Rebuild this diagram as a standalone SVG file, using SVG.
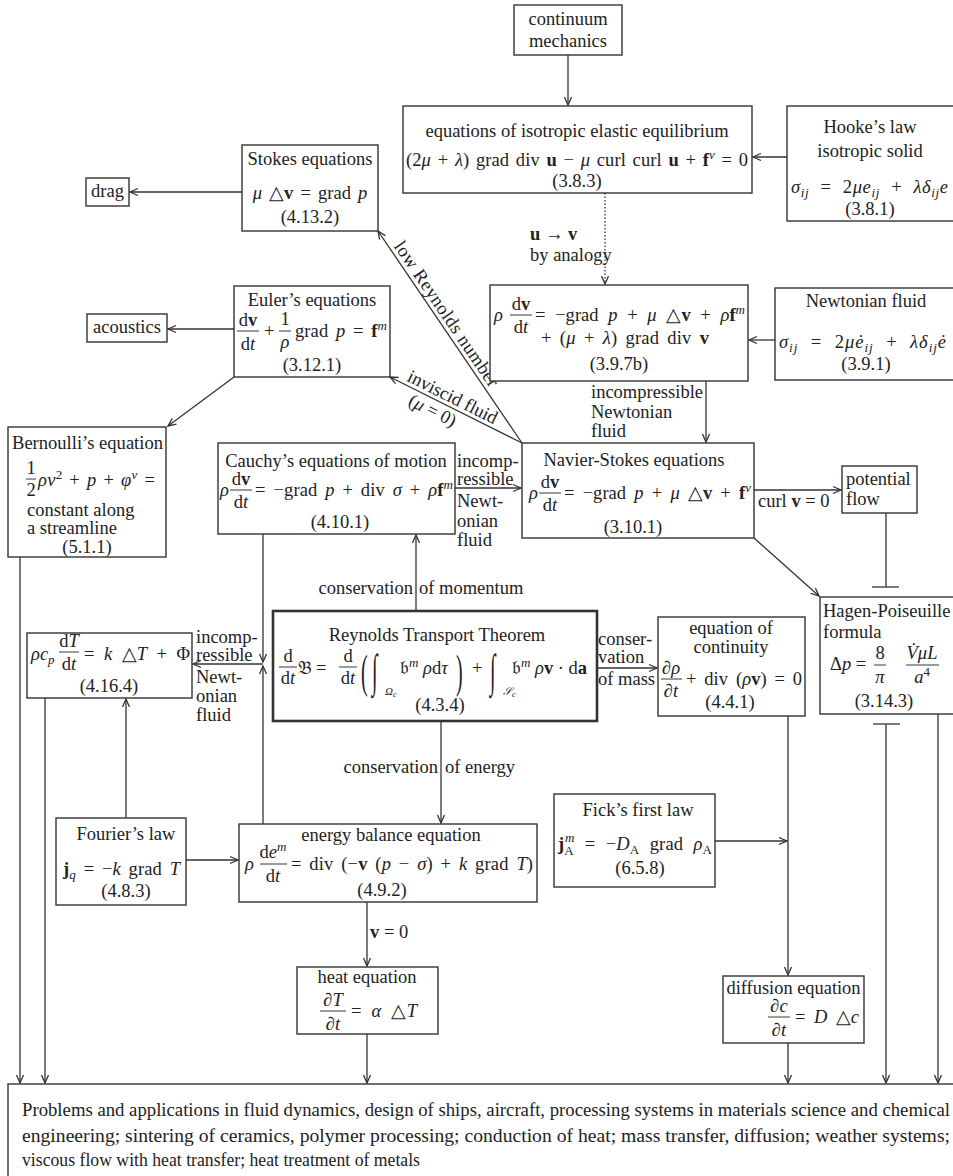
<svg xmlns="http://www.w3.org/2000/svg" width="953" height="1176" viewBox="0 0 953 1176" font-family="'Liberation Serif', 'Times New Roman', serif">
<defs>
<marker id="ah" viewBox="0 0 10 10" refX="9" refY="5" markerWidth="10" markerHeight="10" markerUnits="userSpaceOnUse" orient="auto">
<path d="M1,1.5 L9,5 L1,8.5" fill="none" stroke="#333" stroke-width="1.3"/>
</marker>
<style>
text{font-family:'Liberation Serif','Times New Roman',serif}
.t{font-size:18.5px;fill:#222}
.i{font-style:italic}
.b{font-weight:bold}
.s{font-size:13px}
.xs{font-size:8.5px}
.c{text-anchor:middle}
.e{text-anchor:end}
.box{fill:#fff;stroke:#333;stroke-width:1.4}
.thick{stroke-width:2.6}
.ln{stroke:#333;stroke-width:1.3;fill:none}
.dot{stroke-dasharray:1.5 2}
.fr{stroke:#222;stroke-width:0.9}
.a{marker-end:url(#ah)}
.bt{font-size:18.5px;fill:#222}
</style>
</defs>
<rect width="953" height="1176" fill="#fff"/>

<g id="connectors">
<line class="ln a" x1="568" y1="55" x2="568" y2="105"/>
<line class="ln a" x1="787" y1="157" x2="753" y2="157"/>
<line class="ln a" x1="242" y1="192" x2="130" y2="192"/>
<line class="ln a dot" x1="605" y1="193" x2="605" y2="284"/>
<line class="ln a" x1="775" y1="340" x2="749" y2="340"/>
<line class="ln a" x1="706" y1="381" x2="706" y2="442"/>
<line class="ln a" x1="234" y1="329" x2="168" y2="329"/>
<line class="ln a" x1="234" y1="377" x2="168" y2="426"/>
<line class="ln a" x1="522" y1="443" x2="378" y2="231"/>
<line class="ln a" x1="522" y1="443" x2="390" y2="377"/>
<line class="ln a" x1="455" y1="488" x2="521" y2="488"/>
<line class="ln a" x1="754" y1="490" x2="841" y2="490"/>
<line class="ln" x1="886" y1="513" x2="886" y2="587"/>
<line class="ln" x1="872" y1="587" x2="899" y2="587"/>
<line class="ln a" x1="754" y1="538" x2="819" y2="596"/>
<line class="ln" x1="873" y1="724" x2="900" y2="724"/>
<line class="ln a" x1="886" y1="724" x2="886" y2="1083"/>
<line class="ln a" x1="938" y1="714" x2="938" y2="1083"/>
<line class="ln a" x1="416" y1="611" x2="416" y2="535"/>
<line class="ln a" x1="263" y1="534" x2="263" y2="662"/>
<line class="ln a" x1="263" y1="824" x2="263" y2="666"/>
<line class="ln a" x1="263" y1="664" x2="193" y2="664"/>
<line class="ln a" x1="441" y1="722" x2="441" y2="823"/>
<line class="ln a" x1="597" y1="668" x2="657" y2="668"/>
<line class="ln a" x1="788" y1="716" x2="788" y2="975"/>
<line class="ln a" x1="715" y1="841" x2="787" y2="841"/>
<line class="ln a" x1="186" y1="860" x2="238" y2="860"/>
<line class="ln a" x1="126" y1="818" x2="126" y2="699"/>
<line class="ln a" x1="367" y1="902" x2="367" y2="966"/>
<line class="ln a" x1="20" y1="557" x2="20" y2="1083"/>
<line class="ln a" x1="45" y1="698" x2="45" y2="1083"/>
<line class="ln a" x1="367" y1="1034" x2="367" y2="1083"/>
<line class="ln a" x1="788" y1="1043" x2="788" y2="1083"/>
<text class="t" x="530" y="240"><tspan class="b">u</tspan> → <tspan class="b">v</tspan></text>
<text class="t" x="530" y="261">by analogy</text>
<text class="t" x="591" y="398">incompressible</text>
<text class="t" x="591" y="418">Newtonian</text>
<text class="t" x="591" y="437">fluid</text>
<text class="t" x="457" y="467">incomp-</text>
<text class="t" x="457" y="485">ressible</text>
<text class="t" x="457" y="507">Newt-</text>
<text class="t" x="457" y="527">onian</text>
<text class="t" x="457" y="546">fluid</text>
<text class="t" x="196" y="643">incomp-</text>
<text class="t" x="196" y="661">ressible</text>
<text class="t" x="196" y="683">Newt-</text>
<text class="t" x="196" y="702">onian</text>
<text class="t" x="196" y="721">fluid</text>
<text class="t" x="598" y="645">conser-</text>
<text class="t" x="598" y="663">vation</text>
<text class="t" x="598" y="685">of mass</text>
<text class="t" x="758" y="507">curl <tspan class="b">v</tspan> = 0</text>
<text class="t" x="370" y="938"><tspan class="b">v</tspan> = 0</text>
<text class="t e" x="413" y="594">conservation</text>
<text class="t" x="419" y="594">of momentum</text>
<text class="t e" x="438" y="773">conservation</text>
<text class="t" x="445" y="773">of energy</text>
<g transform="translate(440,322) rotate(55.8)"><text class="t c" x="-3" y="-4" textLength="172">low Reynolds number</text></g>
<g transform="translate(450,407) rotate(26.6)"><text class="t c" x="-2" y="-4">inviscid fluid</text><text class="t c" x="-14" y="17">(<tspan class="i">μ</tspan> = 0)</text></g>
</g>

<g id="continuum">
<rect class="box" x="514" y="5" width="108" height="50"/>
<text class="t c" x="568" y="25">continuum</text>
<text class="t c" x="568" y="47">mechanics</text>
</g>

<g id="elastic">
<rect class="box" x="403" y="106" width="349" height="87"/>
<text class="t c" x="577" y="137">equations of isotropic elastic equilibrium</text>
<text class="t" x="406" y="166" style="word-spacing:2px" textLength="342">(2<tspan class="i">μ</tspan> + <tspan class="i">λ</tspan>) grad div <tspan class="b">u</tspan> − <tspan class="i">μ</tspan> curl curl <tspan class="b">u</tspan> + <tspan class="b">f</tspan><tspan class="s i" dy="-7">v</tspan><tspan dy="7"> = 0</tspan></text>
<text class="t c" x="577" y="187">(3.8.3)</text>
</g>

<g id="hooke">
<rect class="box" x="787" y="106" width="175" height="115"/>
<text class="t c" x="870" y="133">Hooke’s law</text>
<text class="t c" x="870" y="157">isotropic solid</text>
<text class="t" x="791" y="193" style="word-spacing:6px" textLength="157"><tspan class="i">σ</tspan><tspan class="s i" dy="4">ij</tspan><tspan dy="-4"> = 2</tspan><tspan class="i">μe</tspan><tspan class="s i" dy="4">ij</tspan><tspan dy="-4"> + </tspan><tspan class="i">λδ</tspan><tspan class="s i" dy="4">ij</tspan><tspan class="i" dy="-4">e</tspan></text>
<text class="t c" x="870" y="215">(3.8.1)</text>
</g>

<g id="stokes">
<rect class="box" x="242" y="145" width="136" height="86"/>
<text class="t c" x="310" y="165">Stokes equations</text>
<text class="t c" x="310" y="199" style="word-spacing:2.5px"><tspan class="i">μ</tspan> △<tspan class="b">v</tspan> = grad <tspan class="i">p</tspan></text>
<text class="t c" x="310" y="223">(4.13.2)</text>
</g>

<g id="drag">
<rect class="box" x="86" y="178" width="43" height="28"/>
<text class="t c" x="107.5" y="197">drag</text>
</g>

<g id="euler">
<rect class="box" x="234" y="286" width="156" height="91"/>
<text class="t c" x="312" y="306">Euler’s equations</text>
<text class="t c" x="248" y="326">d<tspan class="b">v</tspan></text>
<line class="fr" x1="237" y1="331" x2="259" y2="331"/>
<text class="t c" x="248" y="350">d<tspan class="i">t</tspan></text>
<text class="t" x="264" y="337">+</text>
<text class="t c" x="285" y="325">1</text>
<line class="fr" x1="279" y1="331" x2="291" y2="331"/>
<text class="t c i" x="285" y="348">ρ</text>
<text class="t" x="295" y="337" style="word-spacing:3px" textLength="92">grad <tspan class="i">p</tspan> = <tspan class="b">f</tspan><tspan class="s i" dy="-7">m</tspan></text>
<text class="t c" x="312" y="371">(3.12.1)</text>
</g>

<g id="acoustics">
<rect class="box" x="87" y="314" width="80" height="28"/>
<text class="t c" x="127" y="333">acoustics</text>
</g>

<g id="analogy">
<rect class="box" x="490" y="285" width="258" height="96"/>
<text class="t i" x="494" y="321">ρ</text>
<text class="t c" x="521" y="310">d<tspan class="b">v</tspan></text>
<line class="fr" x1="510" y1="315" x2="532" y2="315"/>
<text class="t c" x="521" y="333">d<tspan class="i">t</tspan></text>
<text class="t" x="535" y="321" style="word-spacing:5px" textLength="210">= −grad <tspan class="i">p</tspan> + <tspan class="i">μ</tspan> △<tspan class="b">v</tspan> + <tspan class="i">ρ</tspan><tspan class="b">f</tspan><tspan class="s i" dy="-7">m</tspan></text>
<text class="t" x="541" y="344" style="word-spacing:3.5px" textLength="168">+ (<tspan class="i">μ</tspan> + <tspan class="i">λ</tspan>) grad div <tspan class="b">v</tspan></text>
<text class="t c" x="619" y="370">(3.9.7b)</text>
</g>

<g id="newtonian">
<rect class="box" x="775" y="288" width="185" height="92"/>
<text class="t c" x="866" y="307">Newtonian fluid</text>
<text class="t" x="779" y="348" style="word-spacing:7px" textLength="167"><tspan class="i">σ</tspan><tspan class="s i" dy="4">ij</tspan><tspan dy="-4"> = 2</tspan><tspan class="i">μė</tspan><tspan class="s i" dy="4">ij</tspan><tspan dy="-4"> + </tspan><tspan class="i">λδ</tspan><tspan class="s i" dy="4">ij</tspan><tspan class="i" dy="-4">ė</tspan></text>
<text class="t c" x="866" y="370">(3.9.1)</text>
</g>

<g id="bernoulli">
<rect class="box" x="8" y="427" width="158" height="130"/>
<text class="t" x="12" y="449" textLength="151" lengthAdjust="spacingAndGlyphs">Bernoulli’s equation</text>
<text class="t c" x="31" y="474">1</text>
<line class="fr" x1="26" y1="479" x2="36" y2="479"/>
<text class="t c" x="31" y="496">2</text>
<text class="t" x="38" y="486" style="word-spacing:2px" textLength="117"><tspan class="i">ρv</tspan><tspan class="s" dy="-7">2</tspan><tspan dy="7"> + </tspan><tspan class="i">p</tspan> + <tspan class="i">φ</tspan><tspan class="s i" dy="-7">v</tspan><tspan dy="7"> =</tspan></text>
<text class="t" x="27" y="516">constant along</text>
<text class="t" x="27" y="534">a streamline</text>
<text class="t c" x="87" y="553">(5.1.1)</text>
</g>

<g id="cauchy">
<rect class="box" x="218" y="443" width="237" height="91"/>
<text class="t c" x="336" y="467">Cauchy’s equations of motion</text>
<text class="t i" x="220" y="496">ρ</text>
<text class="t c" x="241" y="485">d<tspan class="b">v</tspan></text>
<line class="fr" x1="230" y1="490" x2="252" y2="490"/>
<text class="t c" x="241" y="508">d<tspan class="i">t</tspan></text>
<text class="t" x="255" y="496" style="word-spacing:3px" textLength="198">= −grad <tspan class="i">p</tspan> + div <tspan class="i">σ</tspan> + <tspan class="i">ρ</tspan><tspan class="b">f</tspan><tspan class="s i" dy="-7">m</tspan></text>
<text class="t c" x="340" y="528">(4.10.1)</text>
</g>

<g id="navier-stokes">
<rect class="box" x="522" y="443" width="232" height="95"/>
<text class="t c" x="634" y="466">Navier-Stokes equations</text>
<text class="t i" x="529" y="499">ρ</text>
<text class="t c" x="550" y="488">d<tspan class="b">v</tspan></text>
<line class="fr" x1="539" y1="493" x2="561" y2="493"/>
<text class="t c" x="550" y="511">d<tspan class="i">t</tspan></text>
<text class="t" x="564" y="499" style="word-spacing:3.5px" textLength="187">= −grad <tspan class="i">p</tspan> + <tspan class="i">μ</tspan> △<tspan class="b">v</tspan> + <tspan class="b">f</tspan><tspan class="s i" dy="-7">v</tspan></text>
<text class="t c" x="633" y="533">(3.10.1)</text>
</g>

<g id="potential-flow">
<rect class="box" x="842" y="466" width="75" height="47"/>
<text class="t" x="846" y="485">potential</text>
<text class="t" x="846" y="505">flow</text>
</g>

<g id="reynolds">
<rect class="box thick" x="273" y="611" width="324" height="110"/>
<text class="t c" x="437" y="641">Reynolds Transport Theorem</text>
<text class="t c" x="288" y="662">d</text>
<line class="fr" x1="279" y1="667" x2="297" y2="667"/>
<text class="t c" x="288" y="684">d<tspan class="i">t</tspan></text>
<text class="t" x="298" y="674">𝔅</text>
<text class="t" x="316" y="674">=</text>
<text class="t c" x="348" y="662">d</text>
<line class="fr" x1="339" y1="667" x2="357" y2="667"/>
<text class="t c" x="348" y="684">d<tspan class="i">t</tspan></text>
<text class="t" style="font-size:20px" transform="translate(361,687) scale(1,2.3)">(</text>
<text class="t" style="font-size:20px" transform="translate(372,686) scale(1,2.3)">∫</text>
<text class="t i" style="font-size:11px" x="385" y="695">Ω<tspan class="xs" dy="2">c</tspan></text>
<text class="t" x="400" y="674">𝔟<tspan class="s i" dy="-7">m</tspan><tspan class="i" dy="7"> ρ</tspan>d<tspan class="i">τ</tspan></text>
<text class="t" style="font-size:20px" transform="translate(456,687) scale(1,2.3)">)</text>
<text class="t" x="472" y="674">+</text>
<text class="t" style="font-size:20px" transform="translate(490,686) scale(1,2.3)">∫</text>
<text class="t i" style="font-size:11px" x="503" y="695">𝒮<tspan class="xs" dy="2">c</tspan></text>
<text class="t" x="512" y="674">𝔟<tspan class="s i" dy="-7">m</tspan><tspan class="i" dy="7"> ρ</tspan><tspan class="b">v</tspan> · d<tspan class="b">a</tspan></text>
<text class="t c" x="440" y="711">(4.3.4)</text>
</g>

<g id="continuity">
<rect class="box" x="658" y="617" width="147" height="99"/>
<text class="t c" x="731" y="634">equation of</text>
<text class="t c" x="731" y="653">continuity</text>
<text class="t c" x="671" y="674">∂<tspan class="i">ρ</tspan></text>
<line class="fr" x1="661" y1="679" x2="682" y2="679"/>
<text class="t c" x="671" y="697">∂<tspan class="i">t</tspan></text>
<text class="t" x="686" y="685" style="word-spacing:3px" textLength="116">+ div (<tspan class="i">ρ</tspan><tspan class="b">v</tspan>) = 0</text>
<text class="t c" x="730" y="708">(4.4.1)</text>
</g>

<g id="hagen-poiseuille">
<rect class="box" x="820" y="597" width="140" height="117"/>
<text class="t" x="823" y="617">Hagen-Poiseuille</text>
<text class="t" x="823" y="638">formula</text>
<text class="t" x="830" y="670">Δ<tspan class="i">p</tspan> =</text>
<text class="t c" x="880" y="659">8</text>
<line class="fr" x1="874" y1="665" x2="886" y2="665"/>
<text class="t c i" x="880" y="683">π</text>
<text class="t c i" x="922" y="659">V̇μL</text>
<line class="fr" x1="906" y1="665" x2="939" y2="665"/>
<text class="t c" x="922" y="683"><tspan class="i">a</tspan><tspan class="s" dy="-7">4</tspan></text>
<text class="t c" x="884" y="707">(3.14.3)</text>
</g>

<g id="heat-conduction">
<rect class="box" x="27" y="633" width="165" height="65"/>
<text class="t" x="31" y="660"><tspan class="i">ρc</tspan><tspan class="s i" dy="4">p</tspan></text>
<text class="t c" x="69" y="647">d<tspan class="i">T</tspan></text>
<line class="fr" x1="59" y1="652" x2="79" y2="652"/>
<text class="t c" x="69" y="670">d<tspan class="i">t</tspan></text>
<text class="t" x="84" y="660" style="word-spacing:5px" textLength="106">= <tspan class="i">k</tspan> △<tspan class="i">T</tspan> + Φ</text>
<text class="t c" x="109" y="692">(4.16.4)</text>
</g>

<g id="fourier">
<rect class="box" x="56" y="818" width="130" height="87"/>
<text class="t c" x="126" y="840">Fourier’s law</text>
<text class="t" x="63" y="875" style="word-spacing:3px" textLength="117"><tspan class="b">j</tspan><tspan class="s i" dy="4">q</tspan><tspan dy="-4"> = −</tspan><tspan class="i">k</tspan> grad <tspan class="i">T</tspan></text>
<text class="t c" x="126" y="897">(4.8.3)</text>
</g>

<g id="energy-balance">
<rect class="box" x="239" y="824" width="298" height="78"/>
<text class="t c" x="391" y="841">energy balance equation</text>
<text class="t i" x="245" y="870">ρ</text>
<text class="t c" x="273" y="858">d<tspan class="i">e</tspan><tspan class="s i" dy="-7">m</tspan></text>
<line class="fr" x1="260" y1="864" x2="287" y2="864"/>
<text class="t c" x="273" y="882">d<tspan class="i">t</tspan></text>
<text class="t" x="291" y="870" style="word-spacing:3px" textLength="242">= div (−<tspan class="b">v</tspan> (<tspan class="i">p</tspan> − <tspan class="i">σ</tspan>) + <tspan class="i">k</tspan> grad <tspan class="i">T</tspan>)</text>
<text class="t c" x="382" y="896">(4.9.2)</text>
</g>

<g id="fick">
<rect class="box" x="554" y="794" width="161" height="93"/>
<text class="t c" x="638" y="816">Fick’s first law</text>
<text class="t" x="558" y="850" style="word-spacing:5.5px" textLength="154"><tspan class="b">j</tspan><tspan class="s" dy="5">A</tspan><tspan class="s i" dx="-9" dy="-13">m</tspan><tspan dy="8"> = −</tspan><tspan class="i">D</tspan><tspan class="s" dy="4">A</tspan><tspan dy="-4"> grad </tspan><tspan class="i">ρ</tspan><tspan class="s" dy="4">A</tspan></text>
<text class="t c" x="640" y="874">(6.5.8)</text>
</g>

<g id="heat-equation">
<rect class="box" x="297" y="967" width="141" height="67"/>
<text class="t c" x="367" y="983">heat equation</text>
<text class="t c" x="333" y="1006">∂<tspan class="i">T</tspan></text>
<line class="fr" x1="320" y1="1011" x2="346" y2="1011"/>
<text class="t c" x="333" y="1030">∂<tspan class="i">t</tspan></text>
<text class="t" x="351" y="1017" style="word-spacing:5px" textLength="66">= <tspan class="i">α</tspan> △<tspan class="i">T</tspan></text>
</g>

<g id="diffusion-equation">
<rect class="box" x="723" y="976" width="141" height="67"/>
<text class="t c" x="793.5" y="994" textLength="134" lengthAdjust="spacingAndGlyphs">diffusion equation</text>
<text class="t c" x="779" y="1012">∂<tspan class="i">c</tspan></text>
<line class="fr" x1="768" y1="1017" x2="790" y2="1017"/>
<text class="t c" x="779" y="1036">∂<tspan class="i">t</tspan></text>
<text class="t" x="795" y="1023" style="word-spacing:4px" textLength="64">= <tspan class="i">D</tspan> △<tspan class="i">c</tspan></text>
</g>

<g id="applications">
<rect class="box" x="8" y="1084" width="960" height="110"/>
<text class="bt" x="22" y="1116" textLength="928" lengthAdjust="spacingAndGlyphs">Problems and applications in fluid dynamics, design of ships, aircraft, processing systems in materials science and chemical</text>
<text class="bt" x="22" y="1142" textLength="928" lengthAdjust="spacingAndGlyphs">engineering; sintering of ceramics, polymer processing; conduction of heat; mass transfer, diffusion; weather systems;</text>
<text class="bt" x="22" y="1166" textLength="398" lengthAdjust="spacingAndGlyphs">viscous flow with heat transfer; heat treatment of metals</text>
</g>
</svg>
